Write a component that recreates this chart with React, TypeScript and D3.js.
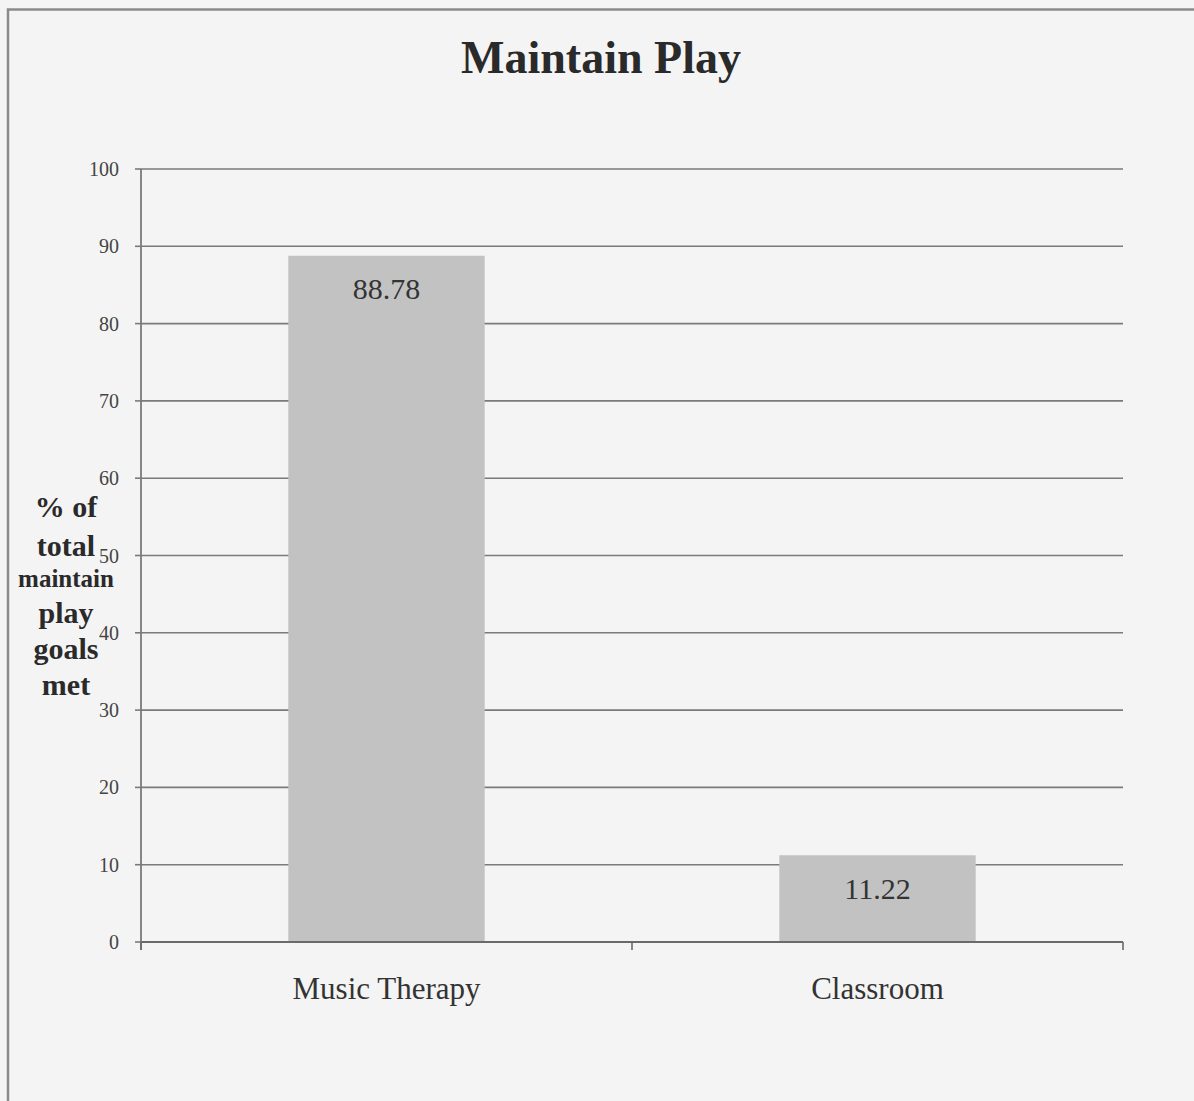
import React from "react";
import * as d3 from "d3";

const categories = ["Music Therapy", "Classroom"];
const values = [88.78, 11.22];
const yTicks = [0, 10, 20, 30, 40, 50, 60, 70, 80, 90, 100];
const titleText = "Maintain Play";
const yTitleLines = [
  { text: "% of", size: 30 },
  { text: "total", size: 30 },
  { text: "maintain", size: 25 },
  { text: "play", size: 30 },
  { text: "goals", size: 30 },
  { text: "met", size: 30 },
];

const W = 1194;
const H = 1101;
const left = 141;
const right = 1123;
const top = 169;
const bottom = 942;
const font = "Liberation Serif, Times New Roman, Times, serif";

export default function App() {
  const x = d3.scaleBand<string>().domain(categories).range([left, right]).paddingInner(0.6).paddingOuter(0.3);
  const band = d3.scaleBand<string>().domain(categories).range([left, right]);
  const y = d3.scaleLinear().domain([0, 100]).range([bottom, top]);

  const yTitleY = [506, 545, 578, 612, 648, 684];

  return (
    <svg width={W} height={H} style={{ position: "absolute", left: 0, top: 0, background: "#f4f4f4", fontFamily: font }}>
      <rect x={0} y={0} width={W} height={H} fill="#f4f4f4" />
      <path d={`M8,${H} V9.5 H${W}`} fill="none" stroke="#8a8a8a" strokeWidth={2.5} />
      <text x={601} y={73} textAnchor="middle" style={{ fontFamily: font }} fontWeight="bold" fontSize={46} fill="#2a2a2a">
        {titleText}
      </text>

      {/* gridlines and y ticks */}
      {yTicks.map((t) => (
        <g key={t}>
          {t > 0 && <line x1={left} x2={right} y1={y(t)} y2={y(t)} stroke="#7a7a7a" strokeWidth={1.6} />}
          <line x1={left - 6} x2={left} y1={y(t)} y2={y(t)} stroke="#7a7a7a" strokeWidth={1.6} />
          <text x={119} y={y(t)} dy="0.35em" textAnchor="end" style={{ fontFamily: font }} fontSize={20} fill="#444">
            {t}
          </text>
        </g>
      ))}

      {/* bars */}
      {categories.map((c, i) => (
        <g key={c}>
          <rect x={x(c)} y={y(values[i])} width={x.bandwidth()} height={bottom - y(values[i])} fill="#c2c2c2" />
          <text
            x={(x(c) as number) + x.bandwidth() / 2}
            y={y(values[i]) + 33}
            dy="0.35em"
            textAnchor="middle"
            style={{ fontFamily: font }}
            fontSize={30}
            fill="#333"
          >
            {values[i]}
          </text>
          <text
            x={(band(c) as number) + band.bandwidth() / 2}
            y={988}
            dy="0.35em"
            textAnchor="middle"
            style={{ fontFamily: font }}
            fontSize={31}
            fill="#333"
          >
            {c}
          </text>
        </g>
      ))}

      {/* axes */}
      <line x1={left} x2={left} y1={top} y2={bottom + 8} stroke="#7a7a7a" strokeWidth={1.8} />
      <line x1={left} x2={right} y1={bottom} y2={bottom} stroke="#6a6a6a" strokeWidth={1.8} />
      {[...categories.map((c) => band(c) as number), right].map((bx, i) => (
        <line key={i} x1={bx} x2={bx} y1={bottom} y2={bottom + 8} stroke="#6a6a6a" strokeWidth={1.6} />
      ))}

      {/* y axis title */}
      {yTitleLines.map((l, i) => (
        <text
          key={l.text}
          x={66}
          y={yTitleY[i]}
          dy="0.35em"
          textAnchor="middle"
          style={{ fontFamily: font }}
          fontWeight="bold"
          fontSize={l.size}
          fill="#2a2a2a"
        >
          {l.text}
        </text>
      ))}
    </svg>
  );
}
